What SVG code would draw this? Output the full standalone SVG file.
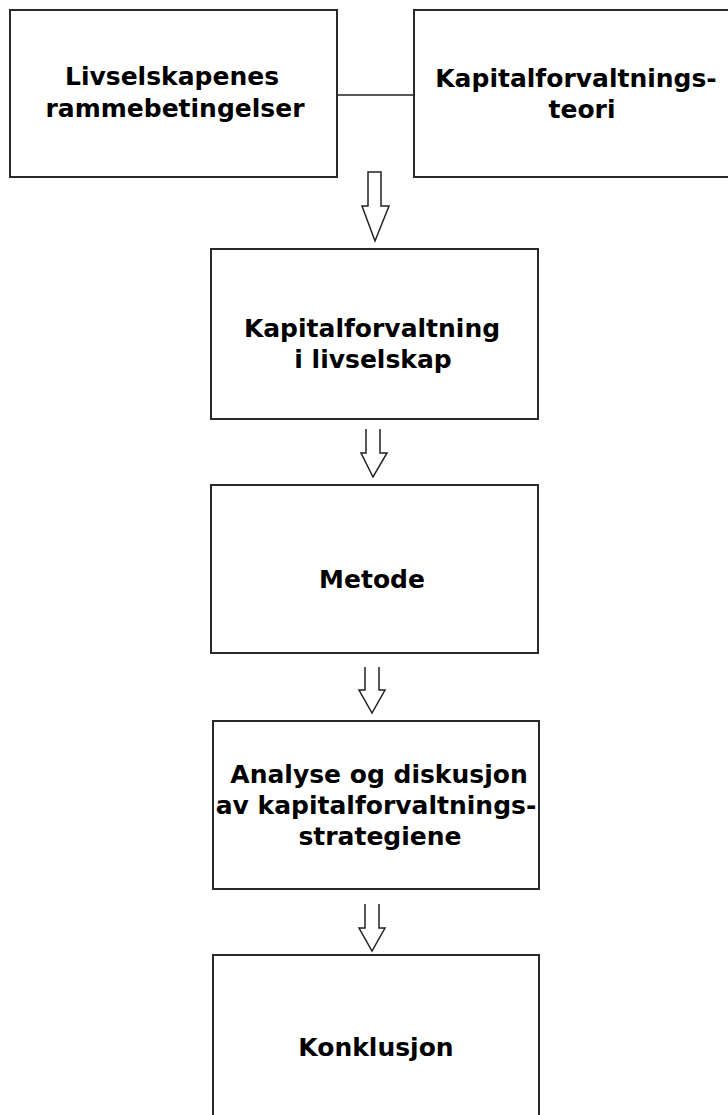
<svg xmlns="http://www.w3.org/2000/svg" width="728" height="1115" viewBox="0 0 728 1115">
<style>
.box{fill:#fff;stroke:#2a2a2a;stroke-width:2}
.lbl{font-family:"DejaVu Sans","Verdana",sans-serif;font-weight:bold;font-size:25px;fill:#000;text-anchor:middle}
.arr{fill:#fff;stroke:#222;stroke-width:1.5;stroke-linejoin:miter}
.ln{stroke:#222;stroke-width:1.5;fill:none}
</style>
<rect width="728" height="1115" fill="#fff"/>
<g id="connectors">
<line class="ln" x1="337" y1="95" x2="414" y2="95"/>
<path class="arr" d="M368,172 H381 V206 H389 L375,241 L362,206 H368 Z"/>
<path class="arr" d="M366,429 V453 H361 L373,477 L387,453 H380 V429"/>
<path class="arr" d="M365,667 V690 H359 L372,713 L385,690 H379 V667"/>
<path class="arr" d="M365,904 V928 H359 L372,951 L385,928 H379 V904"/>
</g>
<g id="n1">
<rect class="box" x="10" y="10" width="327" height="167"/>
<text class="lbl" x="172" y="85">Livselskapenes</text>
<text class="lbl" x="175" y="117">rammebetingelser</text>
</g>
<g id="n2">
<rect class="box" x="414" y="10" width="330" height="167"/>
<text class="lbl" x="576" y="87">Kapitalforvaltnings-</text>
<text class="lbl" x="582" y="118">teori</text>
</g>
<g id="n3">
<rect class="box" x="211" y="249" width="327" height="170"/>
<text class="lbl" x="372" y="337">Kapitalforvaltning</text>
<text class="lbl" x="373" y="368">i livselskap</text>
</g>
<g id="n4">
<rect class="box" x="211" y="485" width="327" height="168"/>
<text class="lbl" x="372" y="588">Metode</text>
</g>
<g id="n5">
<rect class="box" x="213" y="721" width="326" height="168"/>
<text class="lbl" x="379" y="783">Analyse og diskusjon</text>
<text class="lbl" x="376" y="814">av kapitalforvaltnings-</text>
<text class="lbl" x="380" y="845">strategiene</text>
</g>
<g id="n6">
<rect class="box" x="213" y="955" width="326" height="170"/>
<text class="lbl" x="376" y="1056">Konklusjon</text>
</g>
</svg>
